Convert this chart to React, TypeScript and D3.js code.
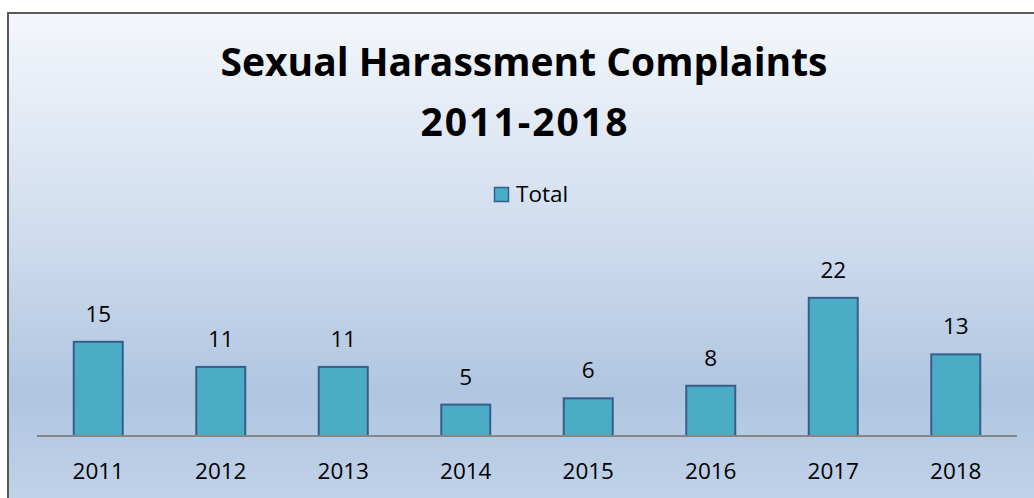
import React from "react";
import * as d3 from "d3";

const years = ["2011", "2012", "2013", "2014", "2015", "2016", "2017", "2018"];
const totals = [15, 11, 11, 5, 6, 8, 22, 13];
const titleLines = ["Sexual Harassment Complaints", "2011-2018"];
const seriesName = "Total";

const W = 1034;
const H = 498;

export default function App() {
  const x = d3.scaleBand<string>().domain(years).range([37, 1017]).paddingInner(0.6).paddingOuter(0.3);
  const y = d3.scaleLinear().domain([0, 25]).range([436, 279]);
  const font = "'Open Sans', sans-serif";
  return (
    <svg width={W} height={H} style={{ position: "absolute", left: 0, top: 0 }}>
      <defs>
        <linearGradient id="bg" x1="0" y1="0" x2="0" y2="1">
          <stop offset="0" stopColor="#f4f7fb" />
          <stop offset="0.45" stopColor="#cfdcee" />
          <stop offset="0.76" stopColor="#afc5e0" />
          <stop offset="1" stopColor="#c3d4ea" />
        </linearGradient>
      </defs>
      <rect x={8} y={13} width={1040} height={500} fill="url(#bg)" stroke="#595959" strokeWidth={2} />
      {titleLines.map((t, i) => (
        <text
          key={i}
          x={524 + (i === 1 ? 1 : 0)}
          y={76 + i * 60}
          textAnchor="middle"
          fontFamily={font}
          fontWeight="bold"
          fontSize={39}
          letterSpacing={i === 1 ? 2 : 0}
          fill="#000"
        >
          {t}
        </text>
      ))}
      <rect x={494.5} y={187.5} width={14} height={14} fill="#4bacc6" stroke="#385d8a" strokeWidth={1.5} />
      <text x={516} y={202} fontFamily={font} fontSize={22.5} fill="#000">{seriesName}</text>
      {years.map((yr, i) => (
        <g key={yr}>
          <rect
            x={x(yr)!}
            y={y(totals[i])}
            width={x.bandwidth()}
            height={y(0) - y(totals[i])}
            fill="#4bacc6"
            stroke="#385d8a"
            strokeWidth={2}
          />
          <text x={x(yr)! + x.bandwidth() / 2} y={y(totals[i]) - 20} textAnchor="middle" fontFamily={font} fontSize={22.5} fill="#000">
            {totals[i]}
          </text>
          <text x={x(yr)! + x.bandwidth() / 2} y={479} textAnchor="middle" fontFamily={font} fontSize={22.5} fill="#000">
            {yr}
          </text>
        </g>
      ))}
      <line x1={37} x2={1017} y1={y(0)} y2={y(0)} stroke="#868686" strokeWidth={2} />
    </svg>
  );
}
